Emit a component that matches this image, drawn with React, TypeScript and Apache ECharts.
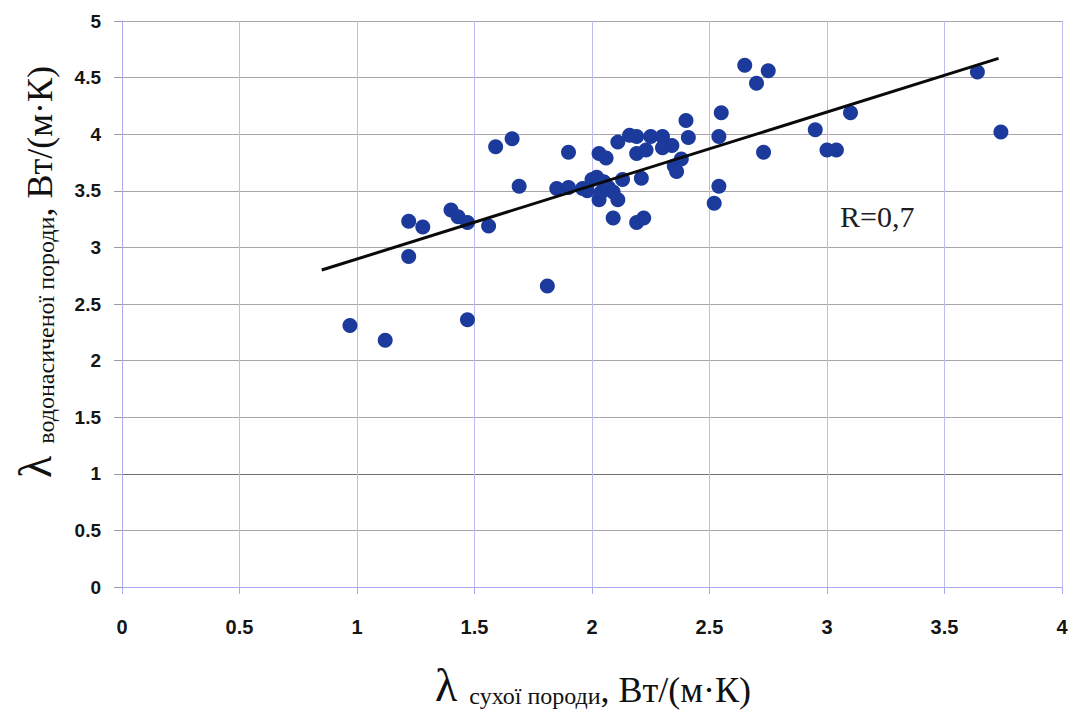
import React, { useEffect, useRef } from "react";
import * as echarts from "echarts";

// Thermal conductivity of dry rock (x) vs. water-saturated rock (y), W/(m·K)
const dryRock: number[] = [
  0.97, 1.12, 1.22, 1.22, 1.28, 1.4, 1.43, 1.47, 1.47, 1.56,
  1.59, 1.66, 1.69, 1.81, 1.85, 1.9, 1.9, 1.96, 1.98, 2.0,
  2.02, 2.03, 2.04, 2.05, 2.03, 2.06, 2.07, 2.09, 2.09, 2.11,
  2.11, 2.13, 2.16, 2.19, 2.19, 2.19, 2.22, 2.21, 2.23, 2.25,
  2.3, 2.3, 2.34, 2.35, 2.36, 2.38, 2.4, 2.41, 2.52, 2.54,
  2.54, 2.55, 2.65, 2.7, 2.75, 2.73, 2.95, 3.0, 3.04, 3.1,
  3.64, 3.74,
];
const saturatedRock: number[] = [
  2.31, 2.18, 3.23, 2.92, 3.18, 3.33, 3.27, 3.22, 2.36, 3.19,
  3.89, 3.96, 3.54, 2.66, 3.52, 3.53, 3.84, 3.52, 3.5, 3.6,
  3.62, 3.42, 3.49, 3.58, 3.83, 3.79, 3.53, 3.49, 3.26, 3.42,
  3.93, 3.6, 3.99, 3.98, 3.83, 3.22, 3.26, 3.61, 3.86, 3.98,
  3.98, 3.88, 3.9, 3.72, 3.67, 3.78, 4.12, 3.97, 3.39, 3.54,
  3.98, 4.19, 4.61, 4.45, 4.56, 3.84, 4.04, 3.86, 3.86, 4.19,
  4.55, 4.02,
];

// Linear trend endpoints
const trendX: number[] = [0.85, 3.73];
const trendY: number[] = [2.8, 4.67];

const xTicks = { min: 0, max: 4, interval: 0.5 };
const yTicks = { min: 0, max: 5, interval: 0.5 };
const correlationLabel = "R=0,7";

const SERIF = "'Liberation Serif', 'DejaVu Serif', serif";
const SANS = "'Liberation Sans', Arial, sans-serif";

const titleRich = {
  l: {
    fontFamily: SERIF,
    fontSize: 46,
    fill: "#111",
    verticalAlign: "bottom",
    padding: [0, 12, 0, 0],
  },
  s: { fontFamily: SERIF, fontSize: 24, fill: "#111", verticalAlign: "bottom" },
  u: { fontFamily: SERIF, fontSize: 36, fill: "#111", verticalAlign: "bottom" },
};

export default function App() {
  const ref = useRef<HTMLDivElement>(null);

  useEffect(() => {
    if (!ref.current) return;
    const chart = echarts.init(ref.current, undefined, { renderer: "svg" });

    const points = dryRock.map((x, i) => [x, saturatedRock[i]]);
    const trend = trendX.map((x, i) => [x, trendY[i]]);

    const hLineColors = Array.from({ length: 11 }, (_, i) =>
      i === 2 ? "#6f6f73" : "#aaa3ab"
    );

    chart.setOption({
      animation: false,
      backgroundColor: "#ffffff",
      grid: { left: 122, top: 21, width: 940, height: 566, containLabel: false },
      xAxis: {
        type: "value",
        min: xTicks.min,
        max: xTicks.max,
        interval: xTicks.interval,
        axisLine: { show: true, onZero: false, lineStyle: { color: "#a9a9ee", width: 1 } },
        axisTick: { show: true, length: 7, lineStyle: { color: "#a9a9ee" } },
        axisLabel: {
          margin: 30,
          fontFamily: SANS,
          fontWeight: "bold",
          fontSize: 20,
          color: "#151515",
        },
        splitLine: { show: true, lineStyle: { color: "#bcbcf4", width: 1 } },
      },
      yAxis: {
        type: "value",
        min: yTicks.min,
        max: yTicks.max,
        interval: yTicks.interval,
        axisLine: { show: true, onZero: false, lineStyle: { color: "#a9a9ee", width: 1 } },
        axisTick: { show: true, length: 8, lineStyle: { color: "#9a9aa8" } },
        axisLabel: {
          margin: 21,
          fontFamily: SANS,
          fontWeight: "bold",
          fontSize: 19,
          color: "#151515",
        },
        splitLine: { show: true, lineStyle: { color: hLineColors, width: 1 } },
      },
      graphic: [
        {
          type: "text",
          left: 840,
          top: 201,
          style: {
            text: correlationLabel,
            font: `30px ${SERIF}`,
            fill: "#1e1e1e",
          },
        },
        {
          type: "text",
          x: 435,
          y: 708,
          style: {
            text: "{l|λ}{s|сухої породи}{u|, Вт/(м·К)}",
            align: "left",
            verticalAlign: "bottom",
            rich: titleRich,
          },
        },
        {
          type: "text",
          x: 12,
          y: 478,
          rotation: Math.PI / 2,
          style: {
            text: "{l|λ}{s|водонасиченої породи}{u|, Вт/(м·К)}",
            align: "left",
            verticalAlign: "top",
            rich: titleRich,
          },
        },
      ],
      series: [
        {
          type: "scatter",
          data: points,
          symbol: "circle",
          symbolSize: 15,
          itemStyle: { color: "#1b3a9c", opacity: 1 },
          z: 3,
        },
        {
          type: "line",
          data: trend,
          symbol: "none",
          lineStyle: { color: "#0a0a0a", width: 3 },
          z: 4,
        },
      ],
    });

    return () => chart.dispose();
  }, []);

  return (
    <div
      ref={ref}
      style={{ position: "fixed", left: 0, top: 0, width: 1071, height: 711, background: "#fff" }}
    />
  );
}
